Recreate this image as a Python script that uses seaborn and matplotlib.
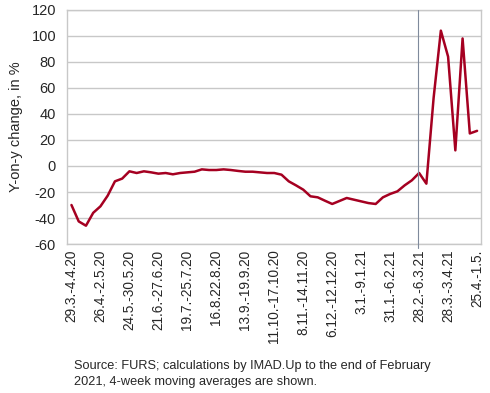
import numpy as np
import matplotlib
matplotlib.use("Agg")
import matplotlib.pyplot as plt
import seaborn as sns

# weekly y-on-y change, in %, from 29.3.-4.4.20 to 25.4.-1.5.21
values = [-30, -42.6, -45.9, -36, -31, -22.8, -11.8, -9.7, -4.1, -5.4,
          -4.1, -4.9, -5.9, -5.4, -6.4, -5.4, -4.9, -4.4, -2.6, -3.1,
          -3.1, -2.6, -3.1, -3.8, -4.4, -4.4, -4.9, -5.4, -5.4, -6.7,
          -11.8, -14.9, -18.2, -23.3, -24.1, -26.7, -29.2, -26.9, -24.6, -25.9,
          -27.2, -28.5, -29.2, -24.1, -21.5, -19.5, -14.9, -11.0, -5.4, -13.6,
          52.3, 104, 84, 12, 98, 25, 27]
weeks = np.arange(len(values))

tick_labels = ["29.3.-4.4.20", "26.4.-2.5.20", "24.5.-30.5.20", "21.6.-27.6.20",
               "19.7.-25.7.20", "16.8.22.8.20", "13.9.-19.9.20", "11.10.-17.10.20",
               "8.11.-14.11.20", "6.12.-12.12.20", "3.1.-9.1.21", "31.1.-6.2.21",
               "28.2.-6.3.21", "28.3.-3.4.21", "25.4.-1.5."]
tick_step = 4

# end of 4-week moving averages (marker line)
break_week = 47.8

sns.set_style("white")
plt.rcParams['font.family'] = ['Liberation Sans', 'DejaVu Sans']
plt.rcParams['axes.unicode_minus'] = False

fig = plt.figure(figsize=(4.9, 3.93), dpi=100)
ax = fig.add_axes([0.137, 0.379, 0.844, 0.596])

ax.set_axisbelow(True)
ax.yaxis.grid(True, color='#c8c8c8', linewidth=1.0)

sns.lineplot(x=weeks, y=values, ax=ax, color='#a50021', linewidth=1.8)

ax.plot([break_week, break_week], [120, -63], color='#7f8a9c', linewidth=0.8,
        clip_on=False, zorder=3)

ax.set_xlim(-0.6, 56.5)
ax.set_ylim(-60, 120)
ax.set_yticks(np.arange(-60, 121, 20))
ax.set_xticks(weeks[::tick_step])
ax.set_xticklabels(tick_labels, rotation=90, fontsize=9.8)
ax.tick_params(axis='y', labelsize=10.5, length=0, pad=8)
ax.tick_params(axis='x', length=0, pad=4)
ax.set_ylabel("Y-on-y change, in %", fontsize=10.5, labelpad=6)

for sp in ax.spines.values():
    sp.set_color('#c8c8c8')
    sp.set_linewidth(1.0)

fig.text(0.15, 0.012, "Source: FURS; calculations by IMAD.Up to the end of February\n"
         "2021, 4-week moving averages are shown.", fontsize=9.2,
         linespacing=1.5, va='bottom', ha='left')

fig.savefig("out.png", dpi=100)
